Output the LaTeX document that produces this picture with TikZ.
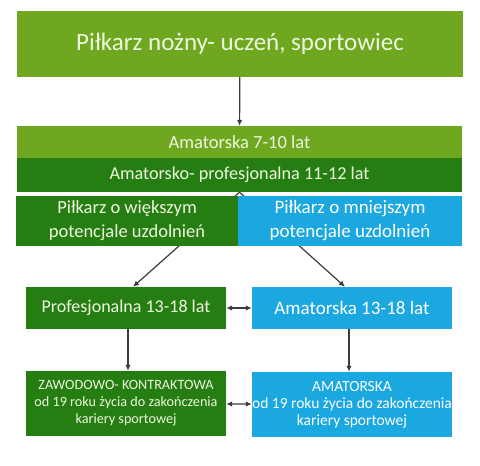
\documentclass[tikz,border=0pt]{standalone}
\usepackage{fontspec}
\setmainfont{Carlito}
\usepackage{tikz}
\usetikzlibrary{arrows.meta}
\definecolor{lightgr}{RGB}{111,168,32}
\definecolor{darkgr}{RGB}{38,126,18}
\definecolor{skyb}{RGB}{27,168,224}
\definecolor{arrowgr}{RGB}{60,60,60}
\definecolor{cream}{RGB}{238,247,222}

\begin{document}
\begin{tikzpicture}[x=1pt, y=-1pt,
    box/.style={inner sep=0pt, align=center, text=cream},
    bbox/.style={box, fill=skyb, text=white},
    conn/.style={line width=1.2pt, arrowgr, -{Latex[length=6pt, width=5.5pt]}},
    dconn/.style={line width=1.2pt, arrowgr, {Latex[length=6pt, width=5.5pt]}-{Latex[length=6pt, width=5.5pt]}}]
				
				\useasboundingbox (0,0) rectangle (480,466);
				\node[box, fill=lightgr, minimum width=446pt, minimum height=66pt, font=\fontsize{25}{28}\selectfont] (gracz) at (240,44) {Piłkarz nożny- uczeń, sportowiec};
				\node[box, fill=lightgr, minimum width=445pt, minimum height=32pt, font=\fontsize{18.5}{20}\selectfont] (am710) at (239.5,142) {Amatorska 7-10 lat};
				\node[box, fill=darkgr, minimum width=445pt, minimum height=34pt, font=\fontsize{18.2}{20}\selectfont] (amprof) at (239.5,175) {Amatorsko- profesjonalna 11-12 lat};
				\node[box, fill=darkgr, minimum width=200pt, minimum height=42pt, font=\fontsize{18}{20}\selectfont] (prof) at (126,308) {Profesjonalna 13-18 lat};
				\node[bbox, minimum width=200pt, minimum height=42pt, font=\fontsize{19}{20}\selectfont] (am1318) at (352,308) {Amatorska 13-18 lat};
				\draw[conn] (amprof.south) -- ([xshift=7pt]prof.north);
				\draw[conn] (amprof.south) -- ([xshift=-7pt]am1318.north);
				\node[box, fill=darkgr, minimum width=222pt, minimum height=50pt, font=\fontsize{18.5}{24}\selectfont] (wiekszy) at (127,221) {Piłkarz o większym\\potencjale uzdolnień};
				\node[bbox, minimum width=224pt, minimum height=50pt, font=\fontsize{19}{24}\selectfont] (mniejszy) at (350,221) {Piłkarz o mniejszym\\potencjale uzdolnień};
				\node[box, fill=darkgr, minimum width=200pt, minimum height=65pt, font=\fontsize{14.2}{17}\selectfont] (zaw) at (126,403.5) {ZAWODOWO- KONTRAKTOWA\\od 19 roku życia do zakończenia\\kariery sportowej};
				\node[bbox, minimum width=200pt, minimum height=65pt, font=\fontsize{15.5}{17}\selectfont] (amat) at (352,404.5) {AMATORSKA\\od 19 roku życia do zakończenia\\kariery sportowej};
				\draw[conn] (gracz) -- (am710);
				\draw[conn] ([xshift=2pt]prof.south) -- ([xshift=2pt]zaw.north);
				\draw[conn] ([xshift=-3pt]am1318.south) -- ([xshift=-3pt]amat.north);
				\draw[dconn] (prof) -- (am1318);
				\draw[dconn] (zaw) -- (amat);
			\end{tikzpicture}
\end{document}
